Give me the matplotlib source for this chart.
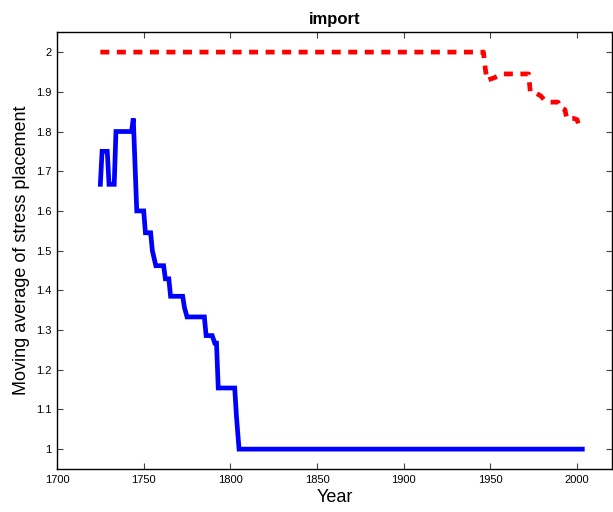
import matplotlib
matplotlib.use("Agg")
import matplotlib.pyplot as plt

plt.rcParams['font.family'] = ['Liberation Sans', 'DejaVu Sans']

# Moving average of stress placement, first series (solid blue)
years_blue = [1725, 1726, 1729, 1730, 1733, 1734, 1743, 1744, 1746, 1750,
              1751, 1754, 1755, 1757, 1761.5, 1762.5, 1764.5, 1765.5, 1772.5, 1773.5,
              1775, 1785, 1786, 1789.5, 1791, 1792, 1793, 1802.5, 1803.5, 1805, 1900, 2003]
vals_blue = [1.667, 1.75, 1.75, 1.667, 1.667, 1.8, 1.8, 1.833, 1.6, 1.6,
             1.545, 1.545, 1.5, 1.462, 1.462, 1.429, 1.429, 1.385, 1.385, 1.357,
             1.333, 1.333, 1.286, 1.286, 1.267, 1.267, 1.154, 1.154, 1.083, 1.0, 1.0, 1.0]

# Second series (dashed red)
years_red = [1725, 1946, 1947, 1948, 1952, 1957, 1972, 1973, 1976, 1979,
             1981, 1984, 1989, 1990, 1993, 1994, 1998, 2000, 2001, 2002]
vals_red = [2.0, 2.0, 1.96, 1.929, 1.935, 1.945, 1.945, 1.90, 1.897, 1.89,
            1.88, 1.874, 1.874, 1.861, 1.855, 1.833, 1.833, 1.83, 1.815, 1.81]

x_ticks = [1700, 1750, 1800, 1850, 1900, 1950, 2000]
y_ticks = [1, 1.1, 1.2, 1.3, 1.4, 1.5, 1.6, 1.7, 1.8, 1.9, 2]
y_tick_labels = ["1", "1.1", "1.2", "1.3", "1.4", "1.5", "1.6", "1.7", "1.8", "1.9", "2"]

fig = plt.figure(figsize=(6.13, 5.12), dpi=100)
ax = fig.add_axes([0.093, 0.084, 0.905, 0.853])

ax.plot(years_blue, vals_blue, color='#0000ff', linewidth=3.4, solid_joinstyle='miter')
ax.plot(years_red, vals_red, color='#ff0000', linewidth=3.4,
        linestyle=(0, (1.9, 1.6)), dash_capstyle='butt')

ax.set_xlim(1700, 2020)
ax.set_ylim(0.95, 2.05)
ax.set_xticks(x_ticks)
ax.set_xticklabels([str(t) for t in x_ticks])
ax.set_yticks(y_ticks)
ax.set_yticklabels(y_tick_labels)

ax.tick_params(direction='in', top=True, right=True, length=4, width=0.8,
               labelsize=8, color='#444444', pad=4)
for s in ax.spines.values():
    s.set_linewidth(1.0)

ax.set_xlabel('Year', fontsize=13, labelpad=3)
ax.set_ylabel('Moving average of stress placement', fontsize=13, labelpad=4)
ax.set_title('import', fontsize=12, fontweight='bold', pad=6)

fig.savefig('out.png', dpi=100)
